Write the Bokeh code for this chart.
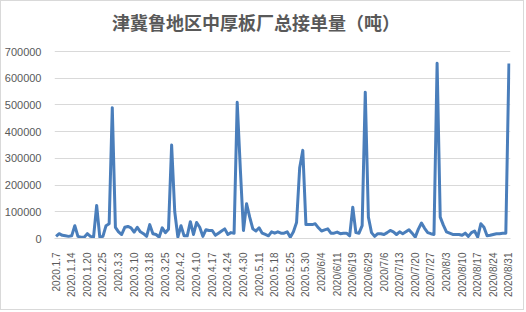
import math
from bokeh.plotting import figure
from bokeh.models import Range1d, FixedTicker
from bokeh.core.properties import value
from bokeh.embed import file_html
from bokeh.resources import INLINE

title_text = "津冀鲁地区中厚板厂总接单量（吨）"

tick_labels = [
    "2020.1.7", "2020.1.14", "2020.1.20", "2020.2.25", "2020.3.3", "2020.3.10",
    "2020.3.18", "2020.3.25", "2020.4.2", "2020.4.10", "2020.4.17", "2020.4.24",
    "2020.4.30", "2020.5.11", "2020.5.18", "2020.5.25", "2020.5.30", "2020/6/4",
    "2020/6/11", "2020/6/19", "2020/6/29", "2020/7/6", "2020/7/13", "2020/7/20",
    "2020/7/27", "2020/8/3", "2020/8/10", "2020/8/17", "2020/8/24", "2020/8/31",
]
label_step = 5

orders = [
    8000, 18000, 12000, 10000, 8000, 10000, 48000, 8000, 5000, 5000,
    18000, 8000, 5000, 124000, 5000, 8000, 48000, 55000, 490000, 42000,
    25000, 15000, 42000, 45000, 40000, 24000, 42000, 25000, 18000, 8000,
    52000, 18000, 15000, 5000, 40000, 22000, 35000, 350000, 100000, 5000,
    48000, 10000, 10000, 63000, 15000, 60000, 42000, 8000, 33000, 30000,
    30000, 12000, 20000, 28000, 36000, 15000, 22000, 20000, 510000, 260000,
    30000, 130000, 80000, 36000, 28000, 40000, 20000, 15000, 10000, 25000,
    20000, 25000, 20000, 20000, 25000, 5000, 25000, 60000, 265000, 330000,
    52000, 52000, 52000, 55000, 40000, 28000, 32000, 36000, 20000, 20000,
    24000, 18000, 20000, 20000, 10000, 117000, 22000, 20000, 48000, 548000,
    80000, 22000, 8000, 18000, 18000, 15000, 22000, 30000, 25000, 15000,
    25000, 18000, 25000, 33000, 20000, 5000, 35000, 58000, 38000, 22000,
    18000, 15000, 656000, 80000, 50000, 25000, 20000, 15000, 15000, 15000,
    12000, 20000, 8000, 22000, 28000, 5000, 55000, 42000, 10000, 12000,
    15000, 18000, 18000, 20000, 20000, 655000,
]

y_ticks = [0, 100000, 200000, 300000, 400000, 500000, 600000, 700000]

n = len(orders)
xs = list(range(n))

# the frame extends above the top gridline to leave room for the title
p = figure(
    width=524, height=310, output_backend="svg", toolbar_location=None,
    x_range=Range1d(-0.5, n - 0.5), y_range=Range1d(0, 880000),
    min_border_left=53, min_border_right=15, min_border_top=2, min_border_bottom=73,
    background_fill_color="white", border_fill_color="white",
)
p.styles = {"border": "1px solid #d9d9d9"}
p.outline_line_color = None

# axes
p.yaxis.ticker = FixedTicker(ticks=y_ticks)
p.ygrid.ticker = FixedTicker(ticks=y_ticks)
p.yaxis.axis_line_color = None
p.yaxis.major_tick_line_color = None
p.yaxis.minor_tick_line_color = None
p.yaxis.major_label_standoff = 7
p.yaxis.major_label_text_font = "Liberation Sans"
p.yaxis.major_label_text_font_size = "11px"
p.yaxis.major_label_text_color = "#595959"
p.yaxis.formatter.use_scientific = False

tick_pos = [i * label_step for i in range(len(tick_labels))]
p.xaxis.ticker = FixedTicker(ticks=tick_pos)
p.xaxis.major_label_overrides = {t: lab for t, lab in zip(tick_pos, tick_labels)}
p.xaxis.major_label_orientation = math.pi / 2
p.xaxis.axis_line_color = "#d9d9d9"
p.xaxis.axis_line_width = 1
p.xaxis.major_tick_line_color = None
p.xaxis.minor_tick_line_color = None
p.xaxis.major_label_standoff = 8
p.xaxis.major_label_text_font = "Liberation Sans"
p.xaxis.major_label_text_font_size = "10px"
p.xaxis.major_label_text_color = "#595959"

p.xgrid.grid_line_color = None
p.ygrid.grid_line_color = "#d9d9d9"
p.ygrid.grid_line_width = 1
p.ygrid.grid_line_alpha = 1.0

p.line(xs, orders, line_color="#4a7ebb", line_width=3, line_join="round")

# chart title
p.text(x=[64], y=[810000], text=[title_text], text_align="center", text_baseline="middle",
       text_font=value("Noto Sans CJK SC"), text_font_style="bold", text_font_size="18px",
       text_color="#595959")

open("out.html", "w").write(file_html(p, INLINE))
